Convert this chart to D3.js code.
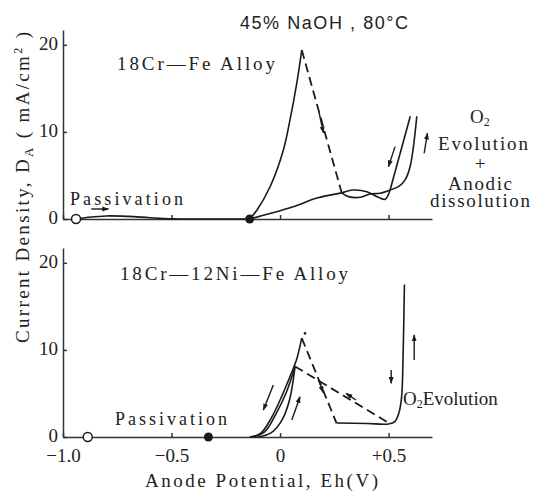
<!DOCTYPE html>
<head>
<meta charset="utf-8">
<title>Anodic polarization, 45% NaOH</title>
<style>
    body { margin: 0; background: #fff; }
    svg { font-family: "Liberation Serif", "DejaVu Serif", serif; }
    text { fill: #222; }
    .curve { fill: none; stroke: #1a1a1a; stroke-width: 1.6; }
    .dash { stroke-dasharray: 9 5; stroke-width: 1.8; }
    .axis path, .axis line { stroke: #333; stroke-width: 1.5; }
    .axis text { font-family: "Liberation Serif", serif; font-size: 19px; fill: #222; }
</style>
</head>
<body>
<script src="https://d3js.org/d3.v7.min.js"></script>
<script>
    // potentials in V, current density in mA/cm2
    const xTicks = [-1.0, -0.5, 0, 0.5];
    const xTickLabels = ["\u22121.0", "\u22120.5", "0", "+0.5"];
    const yTicks = [0, 10, 20];

    // 18Cr-Fe
    const crPassive = [[-0.94, 0], [-0.88, 0.2], [-0.8, 0.35], [-0.7, 0.3], [-0.6, 0.15], [-0.5, 0.03], [-0.35, 0], [-0.14, 0]];
    const crRise = [[-0.14, 0], [-0.107, 1.0], [-0.046, 3.7], [0.015, 7.9], [0.046, 11.4], [0.077, 15.6], [0.10, 19.4]];
    const crDash = [[0.10, 19.4], [0.284, 3.0]];
    const crLow = [[-0.14, 0], [-0.05, 0.6], [0.06, 1.4], [0.17, 2.4], [0.284, 3.0]];
    const crWaveA = [[0.284, 3.0], [0.338, 3.33], [0.40, 3.14], [0.453, 2.49], [0.484, 2.26], [0.507, 3.33]];
    const crWaveB = [[0.284, 3.0], [0.315, 2.57], [0.369, 2.49], [0.415, 2.87], [0.461, 2.95], [0.507, 3.33]];
    const crSteepL = [[0.507, 3.33], [0.60, 11.8]];
    const crSteepR = [[0.507, 3.33], [0.55, 3.8], [0.576, 4.5], [0.599, 6.0], [0.63, 11.8]];
    const crOpen = [-0.94, 0], crFilled = [-0.14, 0];

    // 18Cr-12Ni-Fe
    const niOuter = [[-0.14, 0], [-0.09, 0.4], [-0.04, 2.2], [0.01, 4.8], [0.05, 7.2], [0.075, 8.8], [0.10, 11.35]];
    const niMid = [[-0.12, 0], [-0.07, 0.6], [-0.02, 2.6], [0.03, 5.2], [0.069, 8.1]];
    const niInner = [[-0.10, 0], [-0.04, 0.5], [0.01, 2.0], [0.045, 4.4], [0.069, 8.1]];
    const niDashPeak = [[0.10, 11.35], [0.26, 1.6]];
    const niDashBack = [[0.069, 8.1], [0.505, 1.55]];
    const niO2 = [[0.26, 1.6], [0.40, 1.55], [0.50, 1.5], [0.53, 1.8], [0.548, 2.8], [0.56, 4.6], [0.567, 9.6], [0.573, 17.5]];
    const niOpen = [-0.886, 0], niFilled = [-0.33, 0];

    // arrows [x1, y1, x2, y2], head at the second point
    const crArrows = [[-0.87, 1.15, -0.79, 1.15], [0.179, 12.3, 0.200, 9.9], [0.530, 8.31, 0.499, 6.01], [0.664, 7.55, 0.679, 9.85]];
    const niArrows = [[-0.031, 5.98, -0.077, 3.10], [0.054, 1.95, 0.092, 4.63], [0.176, 6.6, 0.199, 5.1], [0.350, 4.25, 0.304, 5.0], [0.512, 7.7, 0.512, 6.17], [0.618, 8.85, 0.618, 11.72]];

    const svg = d3.select("body").append("svg").attr("width", 533).attr("height", 493);

    svg.append("defs").append("marker")
        .attr("id", "head")
        .attr("markerUnits", "userSpaceOnUse")
        .attr("viewBox", "0 0 10 10")
        .attr("refX", 9).attr("refY", 5)
        .attr("markerWidth", 7).attr("markerHeight", 7)
        .attr("orient", "auto")
        .append("path").attr("d", "M0,1.5L10,5L0,8.5Z").attr("fill", "#1a1a1a");

    const x = d3.scaleLinear().domain([-1.0, 0.7]).range([63, 432]);

    function panel(y0, curves, dashes, arrows, openPt, filledPt, drawLabels) {
        const y = d3.scaleLinear().domain([0, 21.7]).range([y0, y0 - 189]);
        const g = svg.append("g");

        const xa = g.append("g").attr("class", "axis")
            .attr("transform", `translate(0,${y0})`)
            .call(d3.axisBottom(x).tickValues(xTicks).tickSize(-4).tickSizeOuter(0)
                .tickFormat((d, i) => drawLabels ? xTickLabels[i] : ""));
        xa.selectAll("text").attr("y", 12).attr("dy", "0.71em");

        const ya = g.append("g").attr("class", "axis")
            .attr("transform", `translate(${x(-1.0)},0)`)
            .call(d3.axisLeft(y).tickValues(yTicks).tickSize(-4).tickSizeOuter(0).tickPadding(5));
        ya.selectAll("text").attr("dy", "0.25em");

        const line = d3.line().x(d => x(d[0])).y(d => y(d[1])).curve(d3.curveCatmullRom.alpha(0.5));
        const straight = d3.line().x(d => x(d[0])).y(d => y(d[1]));

        g.selectAll(".c").data(curves).join("path").attr("class", "curve").attr("d", line);
        g.selectAll(".d").data(dashes).join("path").attr("class", "curve dash").attr("d", straight);

        g.selectAll(".arr").data(arrows).join("line")
            .attr("x1", d => x(d[0])).attr("y1", d => y(d[1]))
            .attr("x2", d => x(d[2])).attr("y2", d => y(d[3]))
            .attr("stroke", "#1a1a1a").attr("stroke-width", 1.4)
            .attr("marker-end", "url(#head)");

        g.append("circle").attr("cx", x(openPt[0])).attr("cy", y(openPt[1])).attr("r", 4.5)
            .attr("fill", "#fff").attr("stroke", "#1a1a1a").attr("stroke-width", 1.5);
        g.append("circle").attr("cx", x(filledPt[0])).attr("cy", y(filledPt[1])).attr("r", 4.5)
            .attr("fill", "#1a1a1a");
        return y;
    }

    panel(219, [crPassive, crRise, crLow, crWaveA, crWaveB, crSteepL, crSteepR], [crDash], crArrows, crOpen, crFilled, false);
    const yB = panel(437, [niOuter, niMid, niInner, niO2], [niDashPeak, niDashBack], niArrows, niOpen, niFilled, true);

    // small dot above the Ni-alloy peak
    svg.append("circle").attr("cx", x(0.115)).attr("cy", yB(11.9)).attr("r", 1.3).attr("fill", "#1a1a1a");

    function label(t, px, py, size, len, anchor) {
        const el = svg.append("text").attr("x", px).attr("y", py).attr("font-size", size)
            .attr("text-anchor", anchor || "start").text(t);
        if (len) el.attr("textLength", len).attr("lengthAdjust", "spacing");
        return el;
    }

    label("45% NaOH , 80\u00B0C", 240, 29, 18, 168).attr("font-family", "Liberation Sans, Arial, sans-serif");
    label("18Cr\u2014Fe Alloy", 117, 70, 19, 158);
    label("18Cr\u201412Ni\u2014Fe Alloy", 120, 280, 19, 228);
    label("Passivation", 70, 205, 18, 113);
    label("Passivation", 115, 425, 18, 112);

    // right hand notes
    const o2 = label("O", 470, 123, 19, null);
    o2.append("tspan").attr("font-size", 12).attr("dy", 3).text("2");
    label("Evolution", 438, 150, 19, 90);
    label("+", 480, 170, 19, null, "middle");
    label("Anodic", 448, 190, 19, 64);
    label("dissolution", 430, 207, 19, 100);

    const o2b = label("O", 403, 405, 19, null);
    o2b.append("tspan").attr("font-size", 12).attr("dy", 3).text("2");
    o2b.append("tspan").attr("dy", -3).text("Evolution");

    // axis titles
    label("Anode Potential, Eh(V)", 145, 487, 19, 233);

    const yl = svg.append("text").attr("transform", "translate(29,343) rotate(-90)")
        .attr("font-size", 19).attr("textLength", 311).attr("lengthAdjust", "spacing");
    yl.append("tspan").text("Current Density, D");
    yl.append("tspan").attr("font-size", 13).attr("dy", 4).text("A");
    yl.append("tspan").attr("dy", -4).text(" ( mA/cm");
    yl.append("tspan").attr("font-size", 12).attr("dy", -7).text("2");
    yl.append("tspan").attr("dy", 7).text(" )");
</script>
</body>
